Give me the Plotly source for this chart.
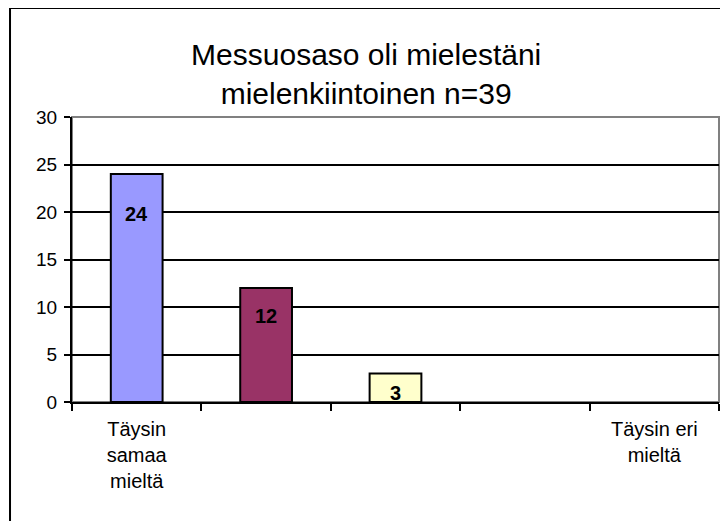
import plotly.graph_objects as go

# Chart data
categories = ["Täysin samaa mieltä", "k2", "k3", "k4", "Täysin eri mieltä"]
tick_labels = ["Täysin<br>samaa<br>mieltä", "", "", "", "Täysin eri<br>mieltä"]
values = [24, 12, 3, 0, 0]
bar_colors = ["#9999FF", "#993366", "#FFFFCC", "#FFFFFF", "#FFFFFF"]
title = "Messuosaso oli mielestäni<br>mielenkiintoinen n=39"

FONT = "Liberation Sans, Arial, sans-serif"

fig = go.Figure(go.Bar(
    x=categories,
    y=values,
    width=0.4,
    marker=dict(color=bar_colors,
                line=dict(color="black", width=[2 if v else 0 for v in values])),
    hoverinfo="y",
))

# value labels sit a little inside the top of each bar, like Excel's "inside end"
for i, v in enumerate(values):
    if v:
        fig.add_annotation(x=i, y=v * 0.9, text=f"<b>{v}</b>", showarrow=False,
                           yshift=-17, font=dict(family=FONT, size=20, color="black"))

# page body has an 8px margin, so the figure is laid out 8px up/left
fig.update_layout(
    width=728,
    height=521,
    margin=dict(l=64, r=17, t=109, b=127),
    paper_bgcolor="white",
    plot_bgcolor="white",
    showlegend=False,
    font=dict(family=FONT, size=20, color="black"),
    title=dict(text=title, x=0.492, xref="container", xanchor="center",
               y=0.8906, yanchor="middle",
               font=dict(family=FONT, size=30, color="black")),
)

fig.update_xaxes(
    tickvals=categories,
    ticktext=tick_labels,
    tickson="boundaries",
    ticks="outside",
    ticklen=7,
    tickwidth=2,
    tickcolor="black",
    ticklabelstandoff=8,
    showline=True,
    linecolor="black",
    linewidth=2,
    showgrid=False,
    tickfont=dict(size=20),
)

fig.update_yaxes(
    range=[0, 30],
    dtick=5,
    ticks="outside",
    ticklen=6,
    tickwidth=2,
    tickcolor="black",
    ticklabelstandoff=3,
    showline=True,
    linecolor="black",
    linewidth=2,
    showgrid=True,
    gridcolor="black",
    gridwidth=2,
    zeroline=False,
    tickfont=dict(size=19),
)

# gray plot-area frame (covers the top gridline) and the outer chart border
fig.add_shape(type="rect", xref="paper", yref="paper", x0=0, x1=1, y0=0, y1=1,
              line=dict(color="#808080", width=2), layer="between")
fig.add_shape(type="rect", xref="paper", yref="paper", x0=-0.0958, x1=1.2, y0=-0.6, y1=1.3825,
              line=dict(color="black", width=2), layer="above")

fig.write_html("out.html")
